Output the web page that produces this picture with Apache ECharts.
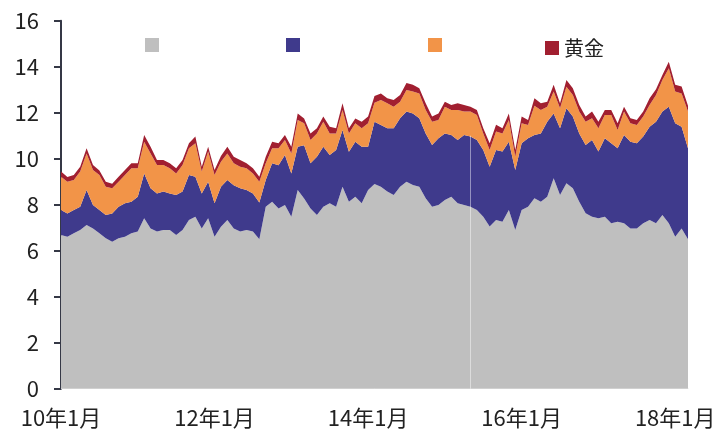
<!DOCTYPE html>
<html>
<head>
<meta charset="utf-8">
<script src="https://cdn.jsdelivr.net/npm/echarts@6/dist/echarts.min.js"></script>
<style>
  html, body { margin: 0; padding: 0; background: #fff; }
  #chart { width: 721px; height: 433px; }
</style>
</head>
<body>
<div id="chart"></div>
<script>
// monthly points, 10年1月 .. 18年3月
const months = [];
for (let i = 0; i < 99; i++) {
  const y = 10 + Math.floor(i / 12);
  const m = (i % 12) + 1;
  months.push(y + "年" + m + "月");
}

const greyData = [
  6.68, 6.61, 6.76, 6.90, 7.12, 6.97, 6.76, 6.54, 6.39, 6.54, 6.61, 6.76,
  6.83, 7.41, 6.97, 6.83, 6.90, 6.90, 6.68, 6.90, 7.33, 7.48, 6.97, 7.41,
  6.61, 7.04, 7.33, 6.97, 6.83, 6.90, 6.83, 6.50, 7.91, 8.13, 7.84, 7.99,
  7.48, 8.64, 8.27, 7.84, 7.55, 7.91, 8.06, 7.91, 8.78, 8.13, 8.35, 8.06,
  8.64, 8.90, 8.78, 8.57, 8.42, 8.78, 9.00, 8.86, 8.78, 8.28, 7.91, 7.99,
  8.20, 8.35, 8.06, 7.99, 7.91, 7.77, 7.48, 7.05, 7.33, 7.26, 7.77, 6.90,
  7.77, 7.91, 8.28, 8.13, 8.35, 9.15, 8.42, 8.93, 8.71, 8.13, 7.63, 7.48,
  7.41, 7.48, 7.19, 7.26, 7.19, 6.97, 6.97, 7.19, 7.34, 7.19, 7.55, 7.19,
  6.61, 6.97, 6.50
];
const blueData = [
  1.09, 1.01, 1.01, 1.01, 1.52, 1.02, 1.01, 1.01, 1.23, 1.37, 1.45, 1.37,
  1.52, 1.95, 1.74, 1.66, 1.67, 1.59, 1.74, 1.67, 1.96, 1.74, 1.52, 1.59,
  1.45, 1.74, 1.74, 1.88, 1.88, 1.74, 1.66, 1.60, 1.16, 1.67, 1.88, 2.17,
  1.88, 1.88, 2.32, 1.96, 2.54, 2.61, 2.10, 2.47, 2.47, 2.17, 2.39, 2.46,
  1.88, 2.71, 2.69, 2.75, 2.90, 2.98, 3.05, 3.11, 2.98, 2.82, 2.69, 2.90,
  2.90, 2.68, 2.75, 3.04, 3.05, 3.04, 2.90, 2.60, 3.05, 3.05, 2.97, 2.61,
  2.90, 2.98, 2.75, 2.97, 3.26, 2.82, 2.90, 3.26, 3.12, 2.97, 2.97, 3.33,
  2.90, 3.41, 3.48, 3.19, 3.84, 3.77, 3.70, 3.77, 4.05, 4.42, 4.50, 5.07,
  4.93, 4.42, 3.95
];
const orangeData = [
  1.45, 1.38, 1.30, 1.53, 1.59, 1.52, 1.52, 1.23, 1.09, 1.09, 1.23, 1.45,
  1.23, 1.38, 1.52, 1.24, 1.16, 1.09, 0.94, 1.16, 1.16, 1.45, 0.95, 1.31,
  1.23, 1.09, 1.16, 0.95, 0.94, 0.94, 0.87, 0.90, 0.73, 0.65, 0.73, 0.65,
  0.87, 1.16, 0.95, 1.01, 1.01, 1.09, 0.94, 0.72, 0.87, 0.80, 0.80, 0.80,
  1.02, 0.82, 1.08, 1.09, 0.94, 0.72, 0.94, 0.95, 1.08, 1.02, 1.01, 0.79,
  1.16, 1.09, 1.31, 1.02, 1.09, 1.09, 0.72, 0.73, 0.80, 0.79, 0.94, 0.58,
  0.87, 0.58, 1.27, 1.02, 0.65, 0.95, 0.87, 0.94, 0.94, 0.95, 1.01, 0.95,
  1.01, 1.01, 1.23, 0.80, 1.02, 0.80, 0.80, 0.87, 0.95, 1.16, 1.37, 1.67,
  1.38, 1.45, 1.60
];
const goldData = [
  0.22, 0.20, 0.22, 0.21, 0.22, 0.22, 0.20, 0.22, 0.20, 0.22, 0.22, 0.22,
  0.22, 0.29, 0.29, 0.21, 0.21, 0.22, 0.22, 0.21, 0.22, 0.29, 0.21, 0.21,
  0.22, 0.25, 0.29, 0.29, 0.29, 0.22, 0.22, 0.22, 0.29, 0.29, 0.22, 0.22,
  0.29, 0.29, 0.21, 0.29, 0.22, 0.22, 0.29, 0.22, 0.29, 0.22, 0.21, 0.29,
  0.29, 0.30, 0.29, 0.22, 0.29, 0.29, 0.30, 0.30, 0.22, 0.29, 0.22, 0.29,
  0.22, 0.22, 0.29, 0.29, 0.21, 0.22, 0.22, 0.29, 0.30, 0.22, 0.29, 0.29,
  0.29, 0.21, 0.33, 0.29, 0.22, 0.30, 0.22, 0.29, 0.29, 0.29, 0.22, 0.29,
  0.29, 0.22, 0.22, 0.29, 0.21, 0.22, 0.21, 0.22, 0.29, 0.25, 0.22, 0.29,
  0.29, 0.30, 0.25
];

const seriesNames = ["s1", "s2", "s3", "黄金"];
const colors = ["#bfbfbf", "#3f3a8c", "#f29448", "#a11f30"];
const yTicks = { min: 0, max: 16, interval: 2 };

const font = "'Noto Sans CJK JP', 'Noto Sans', sans-serif";
const chart = echarts.init(document.getElementById("chart"));

function areaSeries(name, data, color) {
  return {
    name: name,
    type: "line",
    stack: "total",
    data: data,
    symbol: "none",
    smooth: false,
    lineStyle: { width: 0 },
    areaStyle: { color: color, opacity: 1 },
    itemStyle: { color: color },
  };
}

const legendLeft = [140, 281, 423, 540];
const legends = seriesNames.map((n, i) => ({
  data: [n],
  left: legendLeft[i],
  top: 33,
  icon: "rect",
  itemWidth: 14,
  itemHeight: 14,
  itemGap: 8,
  selectedMode: false,
  formatter: (name) => (name === "黄金" ? name : ""),
  textStyle: { fontSize: 20, color: "#222", fontFamily: font },
}));

const series = [
  areaSeries(seriesNames[0], greyData, colors[0]),
  areaSeries(seriesNames[1], blueData, colors[1]),
  areaSeries(seriesNames[2], orangeData, colors[2]),
  areaSeries(seriesNames[3], goldData, colors[3]),
];
// faint vertical seam in the source picture
series[0].markLine = {
  silent: true,
  symbol: "none",
  label: { show: false },
  lineStyle: { color: "rgba(255,255,255,0.45)", width: 1, type: "solid" },
  data: [[{ coord: [months[64], 0] }, { coord: [months[64], 11.0] }]],
};
series[0].z = 3;

chart.setOption({
  animation: false,
  textStyle: { fontFamily: font },
  legend: legends,
  grid: { left: 61, right: 33, top: 20.7, bottom: 44.3, containLabel: false },
  xAxis: {
    type: "category",
    boundaryGap: false,
    data: months,
    axisLine: { show: true, lineStyle: { color: "#e6e6e6", width: 1 } },
    axisTick: { show: false },
    axisLabel: {
      interval: 23,
      margin: 18,
      fontSize: 22,
      color: "#222",
      fontFamily: font,
    },
    splitLine: { show: false },
  },
  yAxis: {
    type: "value",
    min: yTicks.min,
    max: yTicks.max,
    interval: yTicks.interval,
    axisLine: { show: true, lineStyle: { color: "#353846", width: 2 } },
    axisTick: { show: true, length: 7, lineStyle: { color: "#353846", width: 2 } },
    axisLabel: { margin: 22, fontSize: 22, color: "#222", fontFamily: font },
    splitLine: { show: false },
  },
  series: series,
});
</script>
</body>
</html>
